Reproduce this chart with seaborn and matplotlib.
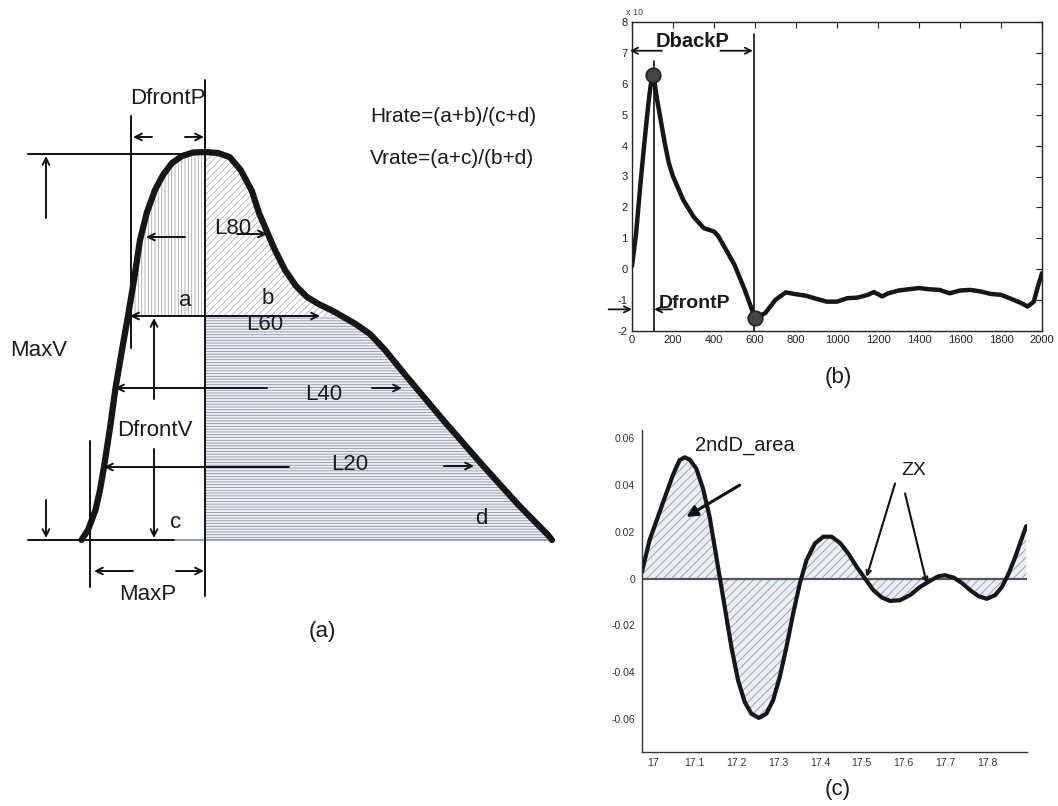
import numpy as np
import matplotlib
matplotlib.use("Agg")
import matplotlib.pyplot as plt
import seaborn as sns

sns.set_theme(style="white")
plt.rcParams['font.family'] = ['Liberation Sans', 'DejaVu Sans']
plt.rcParams['hatch.linewidth'] = 0.6
plt.rcParams['axes.unicode_minus'] = False

# ---------------- data ----------------
# (a) schematic pulse: horizontal position and amplitude above baseline
pulse_x = [81.5, 88, 95.5, 100, 104, 110, 115.5, 122, 128, 134, 140, 147, 155, 163, 172, 182, 193, 205,
           218, 229.6, 240.7, 251.9, 259, 266.7, 274, 285, 296, 307, 318.5, 333, 355.6, 370, 385, 407,
           444, 481.5, 518.5, 548, 552]
pulse_amp = [0, 10, 30, 50, 73, 112, 152, 190, 224, 260, 300, 328, 350, 365, 377, 384, 387.5, 388,
             387, 383, 370, 349, 327, 309, 292, 270, 254, 243, 236, 229, 216, 206, 190, 163,
             119, 76, 35, 5, 0]
level_60 = 224

# (b) first-derivative-like waveform (x 10^?)
b_x = [0, 20, 40, 60, 80, 92, 100, 108, 120, 140, 160, 180, 200, 250, 300, 350, 400, 420, 450, 500, 550,
       600, 650, 700, 750, 800, 850, 900, 950, 1000, 1050, 1100, 1150, 1180, 1220, 1250, 1300, 1350,
       1400, 1450, 1500, 1550, 1600, 1650, 1700, 1750, 1800, 1850, 1900, 1930, 1960, 1980, 2000]
b_y = [0.1, 1.16, 2.67, 4.07, 5.37, 6.0, 6.3, 6.15, 5.58, 4.83, 4.07, 3.43, 3.0, 2.24, 1.70, 1.33,
       1.22, 1.08, 0.73, 0.14, -0.67, -1.58, -1.42, -0.99, -0.75, -0.81, -0.86, -0.96, -1.05, -1.05,
       -0.94, -0.92, -0.83, -0.74, -0.88, -0.78, -0.69, -0.65, -0.61, -0.65, -0.67, -0.78, -0.69,
       -0.67, -0.72, -0.80, -0.83, -0.96, -1.10, -1.21, -1.05, -0.56, -0.13]
b_marks_x = [100, 600]
b_marks_y = [6.3, -1.58]
b_xticks = list(range(0, 2001, 200))
b_yticks = list(range(-2, 9))

# (c) second derivative
c_x = [16.974, 16.992, 17.012, 17.032, 17.048, 17.064, 17.076, 17.088, 17.104, 17.12, 17.136, 17.148,
       17.16, 17.172, 17.188, 17.204, 17.22, 17.236, 17.254, 17.272, 17.288, 17.304, 17.32, 17.336,
       17.352, 17.368, 17.388, 17.408, 17.428, 17.448, 17.468, 17.488, 17.508, 17.528, 17.548, 17.568,
       17.592, 17.616, 17.64, 17.664, 17.684, 17.70, 17.72, 17.74, 17.76, 17.78, 17.80, 17.82, 17.836,
       17.852, 17.868, 17.882, 17.894]
c_y = [0.0029, 0.0164, 0.0264, 0.0364, 0.0443, 0.0507, 0.0519, 0.051, 0.0471, 0.0386, 0.0264, 0.0136,
       0.0007, -0.0121, -0.0293, -0.0436, -0.0529, -0.0579, -0.0597, -0.0579, -0.0521, -0.0421, -0.0293,
       -0.015, -0.0021, 0.0079, 0.015, 0.0179, 0.0179, 0.0153, 0.0107, 0.005, 0.0, -0.005, -0.0081,
       -0.0096, -0.0093, -0.0071, -0.0036, -0.001, 0.001, 0.0014, 0.0004, -0.0019, -0.005, -0.0076,
       -0.0087, -0.0071, -0.0036, 0.0021, 0.0093, 0.0164, 0.0224]
c_xticks = [17.0, 17.1, 17.2, 17.3, 17.4, 17.5, 17.6, 17.7, 17.8]
c_xticklabels = ['17', '17.1', '17.2', '17.3', '17.4', '17.5', '17.6', '17.7', '17.8']
c_yticks = [0.06, 0.04, 0.02, 0.0, -0.02, -0.04, -0.06]
c_yticklabels = ['0.06', '0.04', '0.02', '0', '-0.02', '-0.04', '-0.06']

W, H = 1058, 806
fig = plt.figure(figsize=(W / 100, H / 100), dpi=100)
fig.patch.set_facecolor('white')

# ---------------- panel (a) ----------------
axa = fig.add_axes([0, 0, 600 / W, 1])
axa.set_xlim(0, 600)
axa.set_ylim(540 - 806, 540)
axa.axis('off')

px = np.array(pulse_x)
pa = np.array(pulse_amp)
left = px <= 205
right = px >= 205
# region a (vertical hatch)
axa.fill_between(px[left], level_60, pa[left], where=pa[left] >= level_60, interpolate=True,
                 facecolor='none', edgecolor='#a8a8a8', hatch='|||||', linewidth=0)
# region b (diagonal hatch)
axa.fill_between(px[right], level_60, pa[right], where=pa[right] >= level_60, interpolate=True,
                 facecolor='none', edgecolor='#b0b0b0', hatch='/////', linewidth=0)
# region d (horizontal dense hatch)
axa.fill_between(px[right], 0, np.minimum(pa[right], level_60),
                 facecolor='#eef0f6', edgecolor='#8c92aa', hatch='------', linewidth=0)

sns.lineplot(x=pulse_x, y=pulse_amp, ax=axa, color='#161616', lw=4.5, sort=False,
             estimator=None, legend=False, solid_capstyle='round')

lk = dict(color='#111111', lw=1.4)
axa.plot([28, 205], [386, 386], **lk)
axa.plot([28, 175], [0, 0], **lk)
axa.plot([175, 548], [0, 0], color='#8890a8', lw=1.2)
axa.plot([205, 205], [460, -56], **lk)
axa.plot([131, 131], [424, 192], **lk)
axa.plot([90, 90], [99, -47], **lk)


def arr(x0, y0, x1, y1, style='->'):
    axa.annotate('', xy=(x1, y1), xytext=(x0, y0),
                 arrowprops=dict(arrowstyle=style, color='#111111', lw=1.4, mutation_scale=12,
                                 shrinkA=0, shrinkB=0))


arr(152, 403, 133, 403)
arr(185, 403, 204, 403)
arr(46, 322, 46, 384)
arr(46, 40, 46, 2)
arr(185, 303, 146, 303)
arr(237, 306, 267, 306)
arr(130, level_60, 320, level_60, style='<->')
arr(154, 141, 154, 222)
arr(154, 91, 154, 2)
arr(267, 152, 115, 152)
arr(372, 152, 402, 152)
arr(289, 73, 104, 73)
arr(444, 74, 474, 74)
arr(133, -31, 94, -31)
arr(176, -31, 204, -31)

tk = dict(fontsize=16, color='#1a1a1a', ha='center', va='center')
axa.text(168, 442, 'DfrontP', **tk)
axa.text(370, 424, 'Hrate=(a+b)/(c+d)', fontsize=15, color='#1a1a1a', ha='left', va='center')
axa.text(370, 382, 'Vrate=(a+c)/(b+d)', fontsize=15, color='#1a1a1a', ha='left', va='center')
axa.text(10, 190, 'MaxV', fontsize=16, color='#1a1a1a', ha='left', va='center')
axa.text(233, 312, 'L80', **tk)
axa.text(265, 215, 'L60', **tk)
axa.text(155, 110, 'DfrontV', **tk)
axa.text(324, 145, 'L40', **tk)
axa.text(350, 75, 'L20', **tk)
axa.text(185, 240, 'a', **tk)
axa.text(268, 242, 'b', **tk)
axa.text(176, 18, 'c', **tk)
axa.text(481, 21, 'd', **tk)
axa.text(148, -54, 'MaxP', **tk)
axa.text(322, -92, '(a)', **tk)

# ---------------- panel (b) ----------------
axb = fig.add_axes([632 / W, 1 - 331 / H, 410 / W, 309 / H])
axb.set_xlim(0, 2000)
axb.set_ylim(-2, 8)
sns.lineplot(x=b_x, y=b_y, ax=axb, color='#161616', lw=3.2, sort=False, estimator=None, legend=False)
sns.scatterplot(x=b_marks_x, y=b_marks_y, ax=axb, s=110, color='#444444', edgecolor='#222222',
                linewidth=1.2, legend=False, zorder=5)
axb.set_xticks(b_xticks)
axb.set_yticks(b_yticks)
axb.tick_params(direction='in', length=4, width=0.8, labelsize=8, colors='#222222',
                top=True, right=True, pad=3)
for sp in axb.spines.values():
    sp.set_visible(True)
    sp.set_color('#222222')
    sp.set_linewidth(1.0)
axb.plot([106, 106], [-2, 6.75], color='#111111', lw=1.2)
axb.plot([596, 596], [-2, 7.6], color='#111111', lw=1.2)
axb.text(297, 7.36, 'DbackP', fontsize=14.5, fontweight='bold', color='#1a1a1a', ha='center', va='center')
axb.text(305, -1.1, 'DfrontP', fontsize=14, fontweight='bold', color='#1a1a1a', ha='center', va='center')


def arrb(x0, y0, x1, y1):
    axb.annotate('', xy=(x1, y1), xytext=(x0, y0), annotation_clip=False,
                 arrowprops=dict(arrowstyle='->', color='#111111', lw=1.3, mutation_scale=11,
                                 shrinkA=0, shrinkB=0))


arrb(146, 7.07, -10, 7.07)
arrb(431, 7.07, 590, 7.07)
arrb(-114, -1.3, 0, -1.3)
arrb(195, -1.3, 108, -1.3)
axb.text(-0.015, 1.015, 'x 10', transform=axb.transAxes, fontsize=6.5, color='#444444',
         ha='left', va='bottom')
fig.text(838 / W, 1 - 378 / H, '(b)', fontsize=16, color='#1a1a1a', ha='center', va='center')

# ---------------- panel (c) ----------------
axc = fig.add_axes([642 / W, 1 - 752 / H, 385 / W, 322 / H])
axc.set_xlim(16.974, 17.896)
axc.set_ylim(-0.0743, 0.0636)
axc.fill_between(c_x, 0, c_y, facecolor='#eceef6', edgecolor='#9096b4', hatch='////', linewidth=0)
axc.axhline(0, color='#555555', lw=1.6, zorder=2)
sns.lineplot(x=c_x, y=c_y, ax=axc, color='#161616', lw=3.0, sort=False, estimator=None, legend=False)
axc.set_xticks(c_xticks)
axc.set_xticklabels(c_xticklabels)
axc.set_yticks(c_yticks)
axc.set_yticklabels(c_yticklabels)
axc.tick_params(axis='y', direction='out', length=3, width=0.8, labelsize=7.5, colors='#333333', pad=2)
axc.tick_params(axis='x', direction='in', length=4, width=0.8, labelsize=7.5, colors='#333333', pad=4)
for s in ['top', 'right']:
    axc.spines[s].set_visible(False)
for s in ['left', 'bottom']:
    axc.spines[s].set_color('#333333')
    axc.spines[s].set_linewidth(1.0)
axc.text(17.22, 0.057, '2ndD_area', fontsize=14.5, color='#1a1a1a', ha='center', va='center')
axc.annotate('', xy=(17.08, 0.0264), xytext=(17.208, 0.040),
             arrowprops=dict(arrowstyle='-|>', color='#111111', lw=2.2, mutation_scale=16,
                             shrinkA=0, shrinkB=0))
axc.text(17.624, 0.0464, 'ZX', fontsize=14, color='#1a1a1a', ha='center', va='center')
axc.annotate('', xy=(17.512, 0.0007), xytext=(17.58, 0.0407),
             arrowprops=dict(arrowstyle='->', color='#111111', lw=1.5, mutation_scale=8,
                             shrinkA=0, shrinkB=0))
axc.annotate('', xy=(17.656, -0.0021), xytext=(17.604, 0.0364),
             arrowprops=dict(arrowstyle='->', color='#111111', lw=1.5, mutation_scale=8,
                             shrinkA=0, shrinkB=0))
fig.text(838 / W, 1 - 790 / H, '(c)', fontsize=16, color='#1a1a1a', ha='center', va='center')

fig.savefig('out.png', dpi=100, facecolor='white')
